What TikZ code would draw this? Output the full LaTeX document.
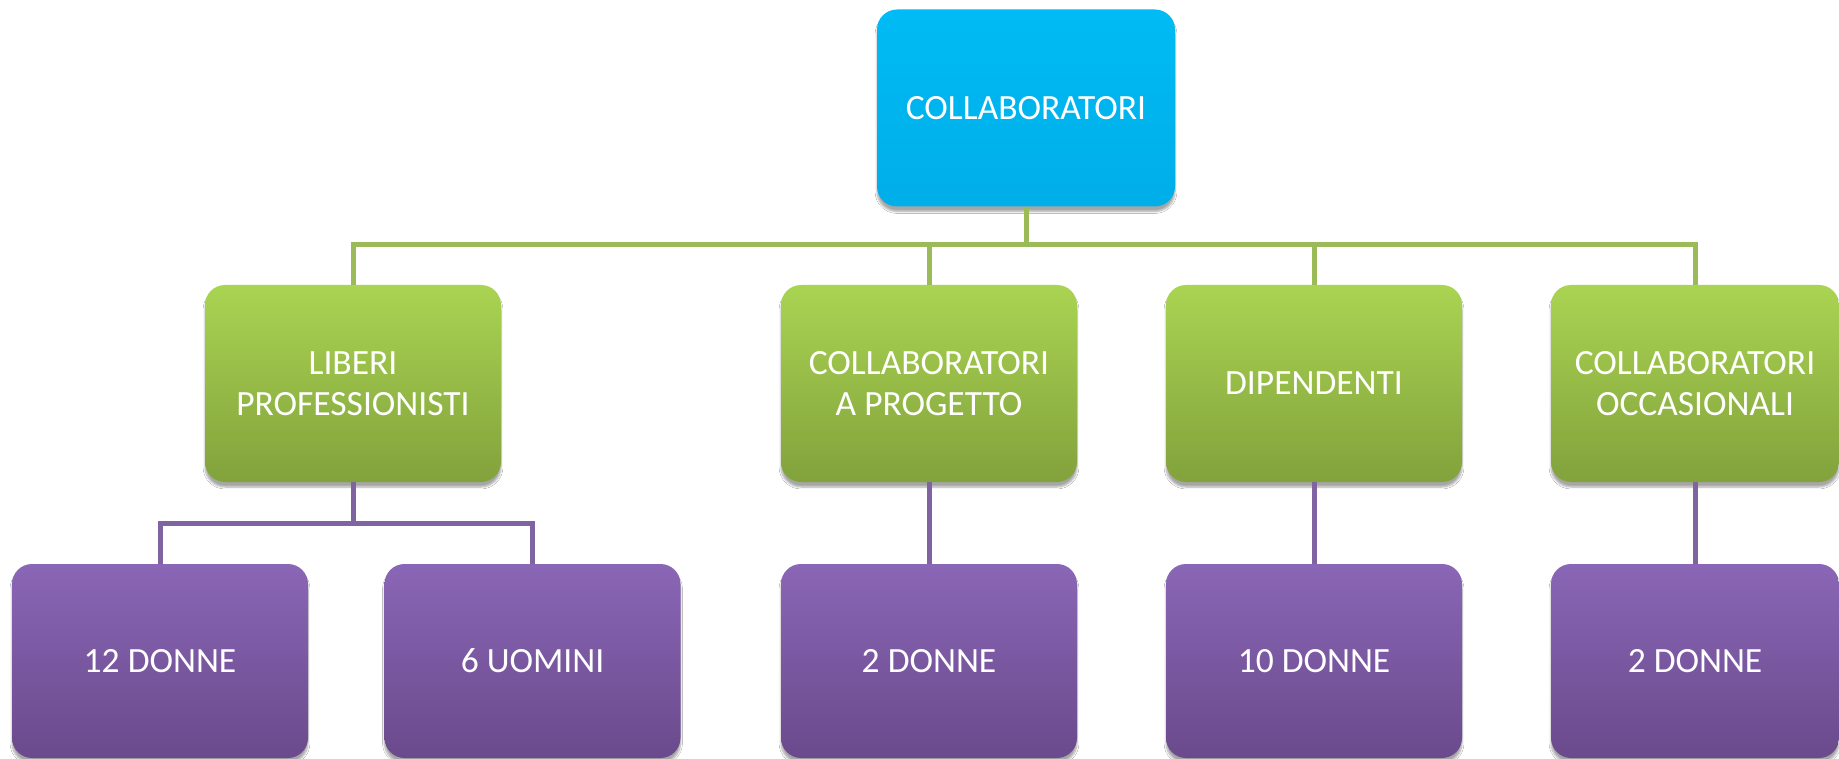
\documentclass[tikz,border=0pt]{standalone}
\usepackage{fontspec}
\setmainfont{Carlito}
\usetikzlibrary{shadows.blur}
\definecolor{topblue}{HTML}{00BBF5}
\definecolor{topblueb}{HTML}{00AEE8}
\definecolor{gtop}{HTML}{AAD452}
\definecolor{gbot}{HTML}{82A23C}
\definecolor{ptop}{HTML}{8A66B6}
\definecolor{pbot}{HTML}{6A4A8C}
\definecolor{gline}{HTML}{9BBB59}
\definecolor{pline}{HTML}{8064A2}
\tikzset{
  box/.style={rounded corners=20pt, minimum height=197pt, minimum width=296pt,
    align=center, text=white, font=\fontsize{35.5}{41}\selectfont, inner sep=0pt,
    blur shadow={shadow xshift=0pt, shadow yshift=-5pt, shadow blur steps=6, shadow opacity=35}},
  topbox/.style={box, top color=topblue, bottom color=topblueb, minimum width=298pt},
  greenbox/.style={box, top color=gtop, bottom color=gbot},
  purplebox/.style={box, top color=ptop, bottom color=pbot, minimum height=194pt},
  gconn/.style={draw=gline, line width=5pt},
  pconn/.style={draw=pline, line width=5pt},
}
\begin{document}
\begin{tikzpicture}[x=1pt, y=-1pt]
\useasboundingbox[fill=white] (0,0) rectangle (1839,759);
\node[topbox] (top) at (1026,108) {COLLABORATORI};
\node[greenbox] (g1) at (353,383.5) {LIBERI\\PROFESSIONISTI};
\node[greenbox] (g2) at (929,383.5) {COLLABORATORI\\A PROGETTO};
\node[greenbox] (g3) at (1314,383.5) {DIPENDENTI};
\node[greenbox, minimum width=288pt] (g4) at (1695,383.5) {COLLABORATORI\\OCCASIONALI};
\node[purplebox] (p1) at (160,661) {12 DONNE};
\node[purplebox] (p2) at (532.5,661) {6 UOMINI};
\node[purplebox] (p3) at (929,661) {2 DONNE};
\node[purplebox] (p4) at (1314,661) {10 DONNE};
\node[purplebox, minimum width=288pt] (p5) at (1695,661) {2 DONNE};
\coordinate (gbus) at (0,245);
\coordinate (pbus) at (0,523);
\path[gconn] (top.south) -- (top.south |- gbus);
\path[gconn] (g1.north) -- (g1.north |- gbus) -- (g4.north |- gbus) -- (g4.north);
\path[gconn] (g2.north) -- (g2.north |- gbus);
\path[gconn] (g3.north) -- (g3.north |- gbus);
\path[pconn] (g1.south) -- (g1.south |- pbus);
\path[pconn] (p1.north) -- (p1.north |- pbus) -- (p2.north |- pbus) -- (p2.north);
\path[pconn] (g2.south) -- (p3.north);
\path[pconn] (g3.south) -- (p4.north);
\path[pconn] (g4.south) -- (p5.north);
\end{tikzpicture}
\end{document}
